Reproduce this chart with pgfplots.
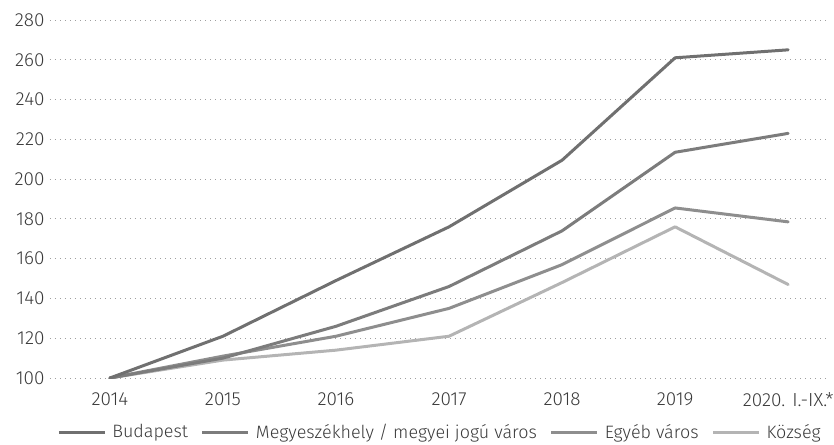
\documentclass[border=0pt]{standalone}
\usepackage{pgfplots}
\pgfplotsset{compat=1.18}
\usepackage{fontspec}
\setmainfont{Fira Sans}[UprightFont={* Light}]
\definecolor{cBud}{HTML}{707070}
\definecolor{cMeg}{HTML}{7C7C7C}
\definecolor{cEgy}{HTML}{8E8E8E}
\definecolor{cKoz}{HTML}{B4B4B4}
\definecolor{txt}{HTML}{3A3A3A}
\begin{document}
\begin{tikzpicture}
\path[use as bounding box] (-50bp,-67bp) rectangle (784bp,378bp);
\begin{axis}[
  at={(0,0)}, anchor=south west,
  scale only axis, width=780bp, height=358bp,
  xmin=-0.53, xmax=6.37, ymin=100, ymax=280,
  xtick={0,1,2,3,4,5,6},
  xticklabels={2014,2015,2016,2017,2018,2019,{2020. I.-IX.*}},
  ytick={100,120,...,280},
  axis line style={draw=none},
  major tick length=0pt,
  /pgf/number format/assume math mode=true,
  ymajorgrids, grid style={gray!75, line width=0.8bp, dash pattern=on 1bp off 4bp},
  tick label style={font=\fontsize{19}{22}\selectfont, text=txt},
  yticklabel style={xshift=-2bp},
  xticklabel style={yshift=-11bp},
  every axis plot/.append style={line width=3bp, line join=round, line cap=round},
]
\addplot[cKoz] coordinates {(0,100) (1,109) (2,114) (3,121) (4,148) (5,176) (6,147)};
\addplot[cEgy] coordinates {(0,100) (1,111) (2,121) (3,135) (4,157) (5,185.5) (6,178.5)};
\addplot[cMeg] coordinates {(0,100) (1,110) (2,126) (3,146) (4,174) (5,213.5) (6,223)};
\addplot[cBud] coordinates {(0,100) (1,121) (2,149) (3,176) (4,209.5) (5,261) (6,265)};
\end{axis}
\begin{axis}[
  at={(0,0)}, anchor=south west,
  scale only axis, width=780bp, height=358bp,
  xmin=-0.53, xmax=6.37, ymin=100, ymax=280,
  hide axis,
  legend columns=4,
  legend style={draw=none, fill=none, at={(0.5,-0.151)}, anchor=center,
    font=\fontsize{18}{21}\selectfont, text=txt,
    /tikz/every odd column/.append style={column sep=4bp},
    /tikz/every even column/.append style={column sep=11bp}},
  legend image code/.code={\draw[#1] (0bp,0bp) -- (46bp,0bp);},
  every axis plot/.append style={line width=3bp},
]
\addlegendimage{cBud}\addlegendentry{Budapest}
\addlegendimage{cMeg}\addlegendentry{Megyeszékhely / megyei jogú város}
\addlegendimage{cEgy}\addlegendentry{Egyéb város}
\addlegendimage{cKoz}\addlegendentry{Község}
\end{axis}
\end{tikzpicture}
\end{document}
